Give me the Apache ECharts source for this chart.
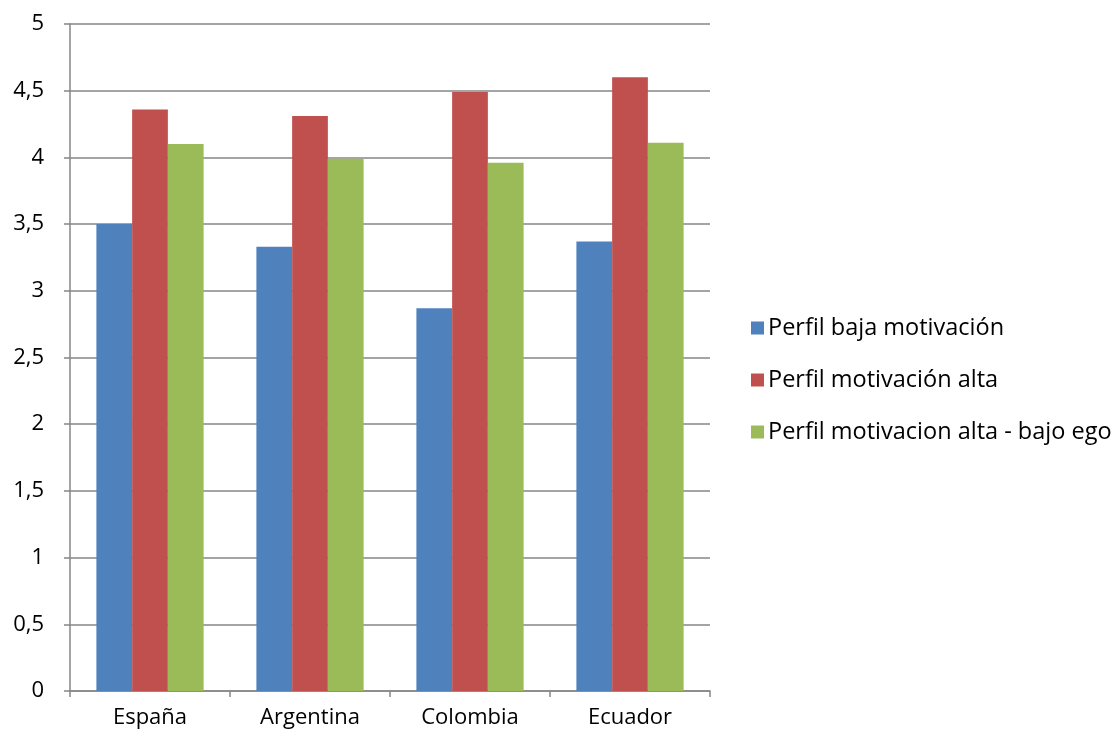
<!DOCTYPE html>
<html>
<head>
<meta charset="utf-8">
<script src="https://cdn.jsdelivr.net/npm/echarts@6/dist/echarts.min.js"></script>
<style>
  html, body { margin: 0; padding: 0; background: #fff; }
  #chart { width: 1118px; height: 736px; }
</style>
</head>
<body>
<div id="chart"></div>
<script>
// Países y puntuaciones medias por perfil
const paises = ['España', 'Argentina', 'Colombia', 'Ecuador'];
const bajaMotivacion = [3.5, 3.33, 2.87, 3.37];
const motivacionAlta = [4.36, 4.31, 4.49, 4.60];
const altaBajoEgo = [4.10, 3.99, 3.96, 4.11];

const nombres = ['Perfil baja motivación', 'Perfil motivación alta', 'Perfil motivacion alta - bajo ego'];
const colores = ['#4f81bd', '#c0504d', '#9bbb59'];
const fuente = 'Open Sans';

const chart = echarts.init(document.getElementById('chart'));
chart.setOption({
  animation: false,
  textStyle: { fontFamily: fuente },
  grid: { left: 70, right: 408, top: 24, bottom: 45, containLabel: false },
  legend: {
    orient: 'vertical',
    left: 746,
    top: 311,
    itemWidth: 13,
    itemHeight: 13,
    itemGap: 28,
    icon: 'rect',
    textStyle: { fontSize: 23.5, color: '#000', fontFamily: fuente, padding: [0, 0, 0, -1] },
    data: nombres
  },
  xAxis: {
    type: 'category',
    data: paises,
    axisLine: { lineStyle: { color: '#868686', width: 1.5 } },
    axisTick: { show: true, length: 6, alignWithLabel: false, lineStyle: { color: '#868686', width: 1.5 } },
    axisLabel: { fontSize: 22, color: '#000', margin: 16 }
  },
  yAxis: {
    type: 'value',
    min: 0,
    max: 5,
    interval: 0.5,
    axisLine: { show: true, lineStyle: { color: '#868686', width: 1.5 } },
    axisTick: { show: true, length: 6, lineStyle: { color: '#868686', width: 1.5 } },
    splitLine: { lineStyle: { color: '#868686', width: 1.5 } },
    axisLabel: {
      fontSize: 22,
      color: '#000',
      margin: 26,
      formatter: v => String(v).replace('.', ',')
    }
  },
  series: [
    { name: nombres[0], type: 'bar', data: bajaMotivacion, itemStyle: { color: colores[0] }, barGap: '0%', barCategoryGap: '33%' },
    { name: nombres[1], type: 'bar', data: motivacionAlta, itemStyle: { color: colores[1] }, barGap: '0%', barCategoryGap: '33%' },
    { name: nombres[2], type: 'bar', data: altaBajoEgo, itemStyle: { color: colores[2] }, barGap: '0%', barCategoryGap: '33%' }
  ]
});
</script>
</body>
</html>
